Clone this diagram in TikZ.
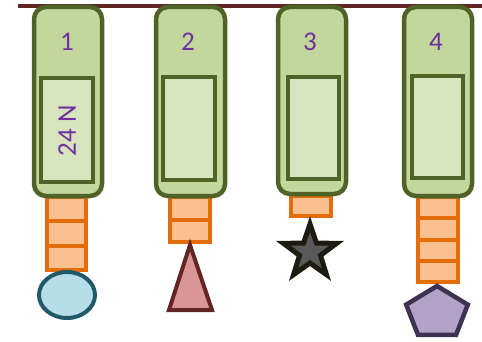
\documentclass[tikz,border=0pt]{standalone}
\usepackage{fontspec}
\setmainfont{Carlito}
\definecolor{barRed}{HTML}{632523}
\definecolor{olv}{HTML}{4F6228}
\definecolor{outerFill}{HTML}{C3D69B}
\definecolor{innerFill}{HTML}{D7E4BD}
\definecolor{purp}{HTML}{7030A0}
\definecolor{orng}{HTML}{E46C0A}
\definecolor{peach}{HTML}{FAC090}
\definecolor{tealD}{HTML}{215968}
\definecolor{tealL}{HTML}{B7DEE8}
\definecolor{triFill}{HTML}{D99694}
\definecolor{starFill}{HTML}{595959}
\definecolor{starLine}{HTML}{1D1B10}
\definecolor{penFill}{HTML}{B3A2C7}
\definecolor{penLine}{HTML}{3F3151}
\tikzset{
  outerbox/.style={draw=olv, fill=outerFill, line width=4.5pt, rounded corners=12pt},
  innerbox/.style={draw=olv, fill=innerFill, line width=4.5pt},
  linker/.style={draw=orng, fill=peach, line width=4pt},
  divider/.style={draw=orng, line width=4pt},
  numlabel/.style={text=purp, font=\fontsize{27}{27}\selectfont, inner sep=0pt},
}
\begin{document}
\begin{tikzpicture}[x=1pt,y=-1pt]
\useasboundingbox (0,0) rectangle (482,342);
\draw[line width=4.5pt, barRed] (18,6) -- (482,6);

% column 1
\draw[linker] (47,197) rectangle (86,270);
\draw[divider] (47,221.3) -- (86,221.3);
\draw[divider] (47,245.7) -- (86,245.7);
\draw[outerbox] (34,7) rectangle (102,196);
\draw[innerbox] (41,78) rectangle (93,182);
\node[numlabel] (l1) at (67,42) {1};
\node[numlabel, rotate=90] (n24) at (67,131) {24 N};
\draw[draw=tealD, fill=tealL, line width=4pt] (67,295) ellipse [x radius=28, y radius=23];

% column 2
\draw[linker] (170,197) rectangle (210,242);
\draw[divider] (170,219.5) -- (210,219.5);
\draw[outerbox] (156,7) rectangle (225,196);
\draw[innerbox] (163,77) rectangle (215,180);
\node[numlabel] (l2) at (188,42) {2};
\draw[draw=barRed, fill=triFill, line width=4pt, line join=miter] (190,245) -- (212,310) -- (169,310) -- cycle;

% column 3
\draw[linker] (291,196) rectangle (331,216);
\draw[outerbox] (278,7) rectangle (346,194);
\draw[innerbox] (288,77) rectangle (339,179);
\node[numlabel] (l3) at (310,42) {3};
\begin{scope}[shift={(310,252)}]
\draw[draw=starLine, fill=starFill, line width=5pt, line join=miter, miter limit=10]
  (-90:28) -- (-54:11) -- (-18:28) -- (18:11) -- (54:28) -- (90:11)
  -- (126:28) -- (162:11) -- (198:28) -- (234:11) -- cycle;
\end{scope}

% column 4
\draw[linker] (418,197) rectangle (458,282);
\draw[divider] (418,218.25) -- (458,218.25);
\draw[divider] (418,239.5) -- (458,239.5);
\draw[divider] (418,260.75) -- (458,260.75);
\draw[outerbox] (404,7) rectangle (472,196);
\draw[innerbox] (412,76) rectangle (463,178);
\node[numlabel] (l4) at (436,42) {4};
\begin{scope}[shift={(437,313)}, xscale=1.2]
\draw[draw=penLine, fill=penFill, line width=4.5pt, line join=miter]
  (-90:27) -- (-18:27) -- (54:27) -- (126:27) -- (198:27) -- cycle;
\end{scope}
\end{tikzpicture}
\end{document}
